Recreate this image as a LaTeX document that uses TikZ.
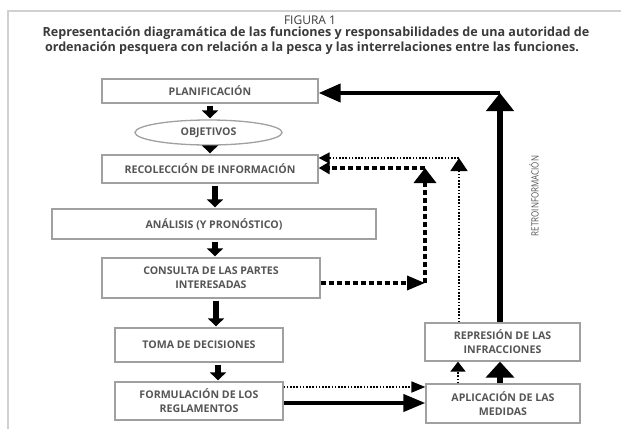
\documentclass[tikz,border=0pt]{standalone}
\usepackage{fontspec}
\setmainfont{Open Sans}
\usetikzlibrary{arrows.meta,shapes.geometric,calc}
\definecolor{boxline}{HTML}{A0A0A0}
\definecolor{boxtext}{HTML}{555555}
\definecolor{titletext}{HTML}{3A3A3A}
\definecolor{framecol}{HTML}{D0D0D0}
\tikzset{
  box/.style={draw=boxline, line width=1.3pt, rectangle, inner sep=1pt, align=center,
              text=boxtext, font=\fontsize{10.6}{14}\selectfont\bfseries},
  blk/.style={line width=6pt, -{Triangle[width=16pt,length=8pt]}, shorten <=2pt, shorten >=1pt},
  bigup/.style={line width=6.5pt, -{Triangle[width=27pt,length=18pt]}},
  bigleft/.style={line width=4pt, -{Triangle[width=18pt,length=22pt]}},
  thickr/.style={line width=4pt, -{Triangle[width=17pt,length=22pt]}},
  fdot/.style={line width=1.8pt, dash pattern=on 1.6pt off 1.6pt},
  hdash/.style={line width=3.5pt, dash pattern=on 5pt off 3pt},
  ttl/.style={text=titletext, font=\fontsize{12.6}{14}\selectfont\bfseries}
}
\begin{document}
\begin{tikzpicture}[x=1pt,y=-1pt]
\useasboundingbox (0,0) rectangle (621,429);
% frame
\draw[framecol, line width=1.5pt] (8,429) -- (8,11) -- (621,11);
% title
\node[text=titletext, font=\fontsize{12}{13}\selectfont] (fig) at (310,20) {FIGURA 1};
\node[ttl] (t1) at (316,33.5) {Representación diagramática de las funciones y responsabilidades de una autoridad de};
\node[ttl] (t2) at (312,48) {ordenación pesquera con relación a la pesca y las interrelaciones entre las funciones.};
% boxes
\node[box, minimum width=216pt, minimum height=24pt] (plan) at (210,91) {PLANIFICACIÓN};
\node[draw=boxline, line width=1.3pt, ellipse, minimum width=147pt, minimum height=25pt, inner sep=0pt,
      text=boxtext, font=\fontsize{10.6}{14}\selectfont\bfseries] (obj) at (208.5,132.5) {OBJETIVOS};
\node[box, minimum width=216pt, minimum height=28pt] (recol) at (210,169) {RECOLECCIÓN DE INFORMACIÓN};
\node[box, minimum width=324pt, minimum height=30pt] (anal) at (214,224) {ANÁLISIS (Y PRONÓSTICO)};
\node[box, minimum width=218pt, minimum height=40pt] (cons) at (211,278) {CONSULTA DE LAS PARTES\\INTERESADAS};
\node[box, minimum width=168pt, minimum height=34pt] (toma) at (199,345) {TOMA DE DECISIONES};
\node[box, minimum width=168pt, minimum height=38pt] (form) at (199,401) {FORMULACIÓN DE LOS\\REGLAMENTOS};
\node[box, minimum width=155pt, minimum height=38pt] (rep) at (502.5,342) {REPRESIÓN DE LAS\\INFRACCIONES};
\node[box, minimum width=154pt, minimum height=39pt] (apl) at (503,403.5) {APLICACIÓN DE LAS\\MEDIDAS};
% column arrows
\draw[blk] (plan.south) -- (plan.south |- obj.north);
\draw[blk] (plan.south |- obj.south) -- (plan.south |- recol.north);
\draw[blk] ([xshift=5pt]recol.south) -- ([xshift=5pt]recol.south |- anal.north);
\draw[blk] ([xshift=5pt]recol.south |- anal.south) -- ([xshift=5pt]recol.south |- cons.north);
\draw[blk] ([xshift=6pt]recol.south |- cons.south) -- ([xshift=6pt]recol.south |- toma.north);
\draw[blk] ([xshift=8pt]recol.south |- toma.south) -- ([xshift=8pt]recol.south |- form.north);
% feedback (retroinformacion)
\coordinate (c1) at (500,93);
\draw[bigup] (rep.north -| c1) -- (c1);
\draw[bigleft] (c1) -- (plan.east |- c1);
\node[text=boxtext, rotate=90, font=\fontsize{10}{11}\selectfont, xscale=0.8] (retro) at (534,196) {RETROINFORMACIÓN};
% formulacion -> aplicacion
\coordinate (fa1) at (282,387);
\coordinate (fa2) at (282,403);
\draw[fdot, -{Triangle[width=11pt,length=14pt]}] (form.east |- fa1) -- (apl.west |- fa1);
\draw[thickr] (form.east |- fa2) -- (apl.west |- fa2);
% aplicacion -> represion
\coordinate (ar1) at (458,380);
\coordinate (ar2) at (500,380);
\draw[fdot, -{Triangle[width=15pt,length=10pt]}] (apl.north -| ar1) -- (rep.south -| ar1);
\draw[line width=6pt, -{Triangle[width=28pt,length=16pt]}] (apl.north -| ar2) -- (rep.south -| ar2);
% fine dotted feedback to recoleccion
\coordinate (f2) at (459,158);
\draw[fdot, -{Triangle[width=17pt,length=13pt]}] (rep.north -| f2) -- (f2);
\draw[fdot, -{Triangle[width=11pt,length=11pt]}] (f2) -- (recol.east |- f2);
% heavy dashed from consulta
\coordinate (d1) at (425,283);
\coordinate (d2) at (425,168);
\draw[hdash, -{Triangle[width=14pt,length=18pt]}] (cons.east |- d1) -- (d1);
\draw[hdash, -{Triangle[width=22pt,length=15pt]}] (d1) -- (d2);
\draw[hdash, -{Triangle[width=12pt,length=11pt]}] (d2) -- (recol.east |- d2);
\end{tikzpicture}
\end{document}
